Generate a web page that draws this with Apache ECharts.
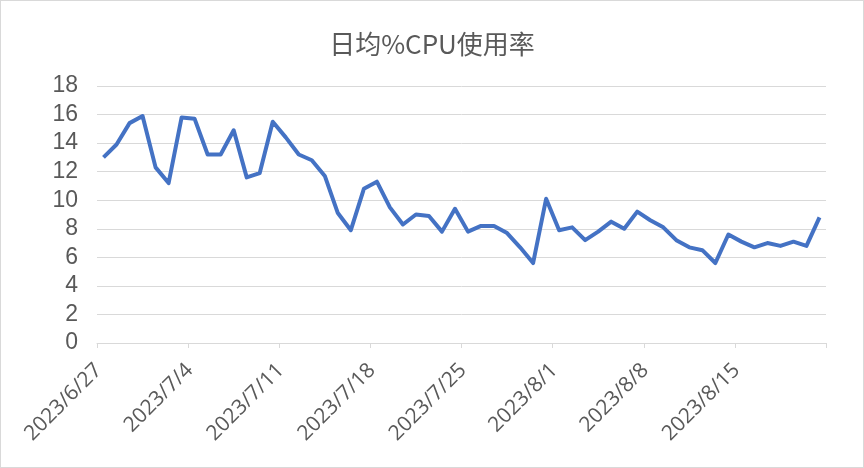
<!DOCTYPE html>
<html>
<head>
<meta charset="utf-8">
<script src="https://cdn.jsdelivr.net/npm/echarts@6/dist/echarts.min.js"></script>
<style>
html,body{margin:0;padding:0;background:#fff;}
#c{width:864px;height:468px;box-sizing:border-box;border:1px solid #d9d9d9;}
</style>
</head>
<body>
<div id="c"></div>
<script>
const titleText = '日均%CPU使用率';
const dates = [
 '2023/6/27','2023/6/28','2023/6/29','2023/6/30','2023/7/1','2023/7/2','2023/7/3',
 '2023/7/4','2023/7/5','2023/7/6','2023/7/7','2023/7/8','2023/7/9','2023/7/10',
 '2023/7/11','2023/7/12','2023/7/13','2023/7/14','2023/7/15','2023/7/16','2023/7/17',
 '2023/7/18','2023/7/19','2023/7/20','2023/7/21','2023/7/22','2023/7/23','2023/7/24',
 '2023/7/25','2023/7/26','2023/7/27','2023/7/28','2023/7/29','2023/7/30','2023/7/31',
 '2023/8/1','2023/8/2','2023/8/3','2023/8/4','2023/8/5','2023/8/6','2023/8/7',
 '2023/8/8','2023/8/9','2023/8/10','2023/8/11','2023/8/12','2023/8/13','2023/8/14',
 '2023/8/15','2023/8/16','2023/8/17','2023/8/18','2023/8/19','2023/8/20','2023/8/21'
];
const cpuValues = [
 13.0, 13.9, 15.4, 15.9, 12.3, 11.2, 15.8,
 15.7, 13.2, 13.2, 14.9, 11.6, 11.9, 15.5,
 14.4, 13.2, 12.8, 11.7, 9.1, 7.9, 10.8,
 11.3, 9.5, 8.3, 9.0, 8.9, 7.8, 9.4,
 7.8, 8.2, 8.2, 7.7, 6.7, 5.6, 10.1,
 7.9, 8.1, 7.2, 7.8, 8.5, 8.0, 9.2,
 8.6, 8.1, 7.2, 6.7, 6.5, 5.6, 7.6,
 7.1, 6.7, 7.0, 6.8, 7.1, 6.8, 8.8
];
const yTicks = [0, 2, 4, 6, 8, 10, 12, 14, 16, 18];

const chart = echarts.init(document.getElementById('c'), null, {renderer: 'canvas'});
chart.setOption({
  animation: false,
  title: {
    text: titleText,
    left: 'center',
    top: 25,
    textStyle: {fontFamily: 'Noto Sans CJK SC', fontSize: 26, fontWeight: 'normal', color: '#595959'}
  },
  grid: {left: 96, right: 37, top: 85, bottom: 124, containLabel: false},
  xAxis: {
    type: 'category',
    data: dates,
    boundaryGap: true,
    axisLine: {lineStyle: {color: '#d9d9d9', width: 1}},
    axisTick: {show: true, interval: 6, length: 5, lineStyle: {color: '#d9d9d9'}},
    axisLabel: {
      interval: 6, rotate: 45, margin: 19, padding: [0, 7, 0, 0],
      fontFamily: 'Open Sans', fontSize: 21, color: '#595959'
    },
    splitLine: {show: false}
  },
  yAxis: {
    type: 'value',
    min: yTicks[0],
    max: yTicks[yTicks.length - 1],
    interval: 2,
    axisLine: {show: false},
    axisTick: {show: false},
    axisLabel: {fontFamily: 'Liberation Sans', fontSize: 23, color: '#595959', margin: 19},
    splitLine: {lineStyle: {color: '#d9d9d9', width: 1}}
  },
  series: [{
    type: 'line',
    data: cpuValues,
    showSymbol: false,
    symbol: 'none',
    lineStyle: {color: '#4472C4', width: 4, join: 'round'},
    itemStyle: {color: '#4472C4'}
  }]
});
</script>
</body>
</html>
